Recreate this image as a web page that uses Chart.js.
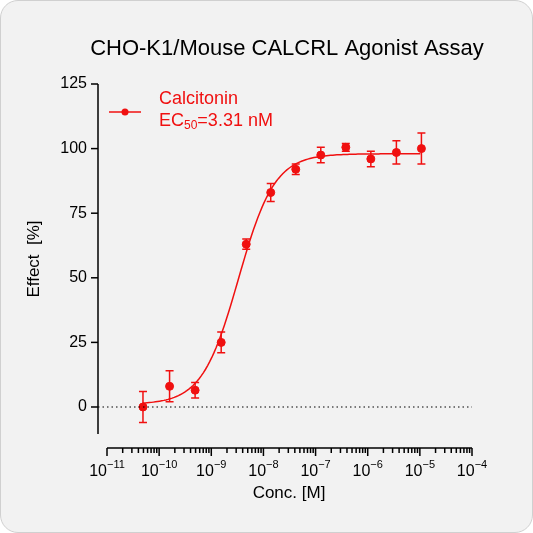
<!DOCTYPE html>
<html>
<head>
<meta charset="utf-8">
<script src="https://cdn.jsdelivr.net/npm/chart.js@4"></script>
<style>
  html, body { margin: 0; padding: 0; background: #fff; }
  #wrap { width: 531px; height: 531px; border: 1px solid #d0d0d0; border-radius: 18px; background: #f2f2f2; overflow: hidden; }
</style>
</head>
<body>
<div id="wrap"><canvas id="chart" width="531" height="531"></canvas></div>
<script>
// log10 concentration [M]
const logConc = [-10.31, -9.8, -9.31, -8.81, -8.33, -7.86, -7.38, -6.9, -6.42, -5.94, -5.45, -4.97];
const effect = [0, 8, 6.5, 25, 63, 83, 92, 97.5, 100.5, 96, 98.5, 100];
const effectErr = [6, 6, 3, 4, 2, 3.5, 2, 3, 1.5, 3, 4.5, 6];
const yTicks = [0, 25, 50, 75, 100, 125];
const xTicks = [-11, -10, -9, -8, -7, -6, -5, -4];

// four parameter fit
const fitBottom = 1, fitTop = 98, fitLogEC50 = Math.log10(3.31e-9), fitHill = 1.25;
const curve = [];
for (let x = -10.31; x <= -4.97; x += 0.04) {
  curve.push({ x: x, y: fitBottom + (fitTop - fitBottom) / (1 + Math.pow(10, (fitLogEC50 - x) * fitHill)) });
}

const red = '#f01010';
const font = '"Liberation Sans", Arial, sans-serif';

const axesPlugin = {
  id: 'axesPlugin',
  afterDraw(c) {
    const ctx = c.ctx, xs = c.scales.x, ys = c.scales.y;
    ctx.save();
    ctx.strokeStyle = '#000';
    ctx.fillStyle = '#000';
    ctx.lineWidth = 1.5;
    // y axis
    const ax = 97;
    ctx.beginPath();
    ctx.moveTo(ax, ys.getPixelForValue(125));
    ctx.lineTo(ax, 433);
    ctx.stroke();
    ctx.font = '16px ' + font;
    ctx.textAlign = 'right';
    ctx.textBaseline = 'middle';
    yTicks.forEach(v => {
      const py = ys.getPixelForValue(v);
      ctx.beginPath(); ctx.moveTo(ax - 7, py); ctx.lineTo(ax, py); ctx.stroke();
      ctx.fillText(String(v), ax - 11, py);
    });
    // x axis
    const ay = 447;
    ctx.beginPath();
    ctx.moveTo(xs.getPixelForValue(-11), ay);
    ctx.lineTo(xs.getPixelForValue(-4), ay);
    ctx.stroke();
    for (let d = -11; d < -4; d++) {
      for (let m = 2; m <= 9; m++) {
        const px = xs.getPixelForValue(d + Math.log10(m));
        ctx.beginPath(); ctx.moveTo(px, ay); ctx.lineTo(px, ay + 5); ctx.stroke();
      }
    }
    xTicks.forEach(v => {
      const px = xs.getPixelForValue(v);
      ctx.beginPath(); ctx.moveTo(px, ay); ctx.lineTo(px, ay + 8); ctx.stroke();
      ctx.font = '16px ' + font;
      const w1 = ctx.measureText('10').width;
      ctx.font = '11px ' + font;
      const exp = String(v).replace('-', '\u2212');
      const w2 = ctx.measureText(exp).width;
      const left = px - (w1 + w2) / 2;
      ctx.textAlign = 'left';
      ctx.textBaseline = 'alphabetic';
      ctx.font = '16px ' + font;
      ctx.fillText('10', left, 475);
      ctx.font = '11px ' + font;
      ctx.fillText(exp, left + w1, 467);
    });
    // zero line
    ctx.setLineDash([1.5, 3]);
    ctx.lineWidth = 1.2;
    ctx.beginPath();
    ctx.moveTo(ax, ys.getPixelForValue(0));
    ctx.lineTo(xs.getPixelForValue(-4), ys.getPixelForValue(0));
    ctx.stroke();
    ctx.setLineDash([]);
    // titles
    ctx.textAlign = 'center';
    ctx.textBaseline = 'middle';
    ctx.font = '22px ' + font;
    ctx.fillText('CHO-K1/Mouse CALCRL Agonist Assay', 286, 48);
    ctx.font = '17px ' + font;
    ctx.fillText('Conc. [M]', 288, 492);
    ctx.save();
    ctx.translate(33, 258);
    ctx.rotate(-Math.PI / 2);
    ctx.fillText('Effect  [%]', 0, 0);
    ctx.restore();
    // legend
    ctx.strokeStyle = red; ctx.fillStyle = red; ctx.lineWidth = 1.5;
    ctx.beginPath(); ctx.moveTo(108, 111); ctx.lineTo(140, 111); ctx.stroke();
    ctx.beginPath(); ctx.arc(124, 111, 3.5, 0, Math.PI * 2); ctx.fill();
    ctx.textAlign = 'left';
    ctx.font = '18px ' + font;
    ctx.fillText('Calcitonin', 158, 98);
    ctx.fillText('EC', 158, 120);
    const wEC = ctx.measureText('EC').width;
    ctx.font = '12px ' + font;
    ctx.fillText('50', 158 + wEC, 125);
    const w50 = ctx.measureText('50').width;
    ctx.font = '18px ' + font;
    ctx.fillText('=3.31 nM', 158 + wEC + w50, 120);
    ctx.restore();
  }
};

const errorBars = {
  id: 'errorBars',
  afterDatasetsDraw(c) {
    const ctx = c.ctx, xs = c.scales.x, ys = c.scales.y;
    ctx.save();
    ctx.strokeStyle = red;
    ctx.lineWidth = 1.5;
    logConc.forEach((x, i) => {
      const px = xs.getPixelForValue(x);
      const y1 = ys.getPixelForValue(effect[i] + effectErr[i]);
      const y2 = ys.getPixelForValue(effect[i] - effectErr[i]);
      ctx.beginPath();
      ctx.moveTo(px, y1); ctx.lineTo(px, y2);
      ctx.moveTo(px - 4, y1); ctx.lineTo(px + 4, y1);
      ctx.moveTo(px - 4, y2); ctx.lineTo(px + 4, y2);
      ctx.stroke();
    });
    ctx.restore();
  }
};

new Chart(document.getElementById('chart'), {
  type: 'scatter',
  data: {
    datasets: [
      {
        type: 'line',
        data: curve,
        borderColor: red,
        borderWidth: 1.5,
        pointRadius: 0,
        tension: 0
      },
      {
        data: logConc.map((x, i) => ({ x: x, y: effect[i] })),
        backgroundColor: red,
        borderColor: red,
        pointRadius: 4
      }
    ]
  },
  options: {
    responsive: false,
    animation: false,
    layout: { padding: { left: 106, right: 60, top: 83, bottom: 94 } },
    plugins: { legend: { display: false }, tooltip: { enabled: false } },
    scales: {
      x: { type: 'linear', min: -11, max: -4, display: false },
      y: { min: -12, max: 125, display: false }
    }
  },
  plugins: [errorBars, axesPlugin]
});
</script>
</body>
</html>
